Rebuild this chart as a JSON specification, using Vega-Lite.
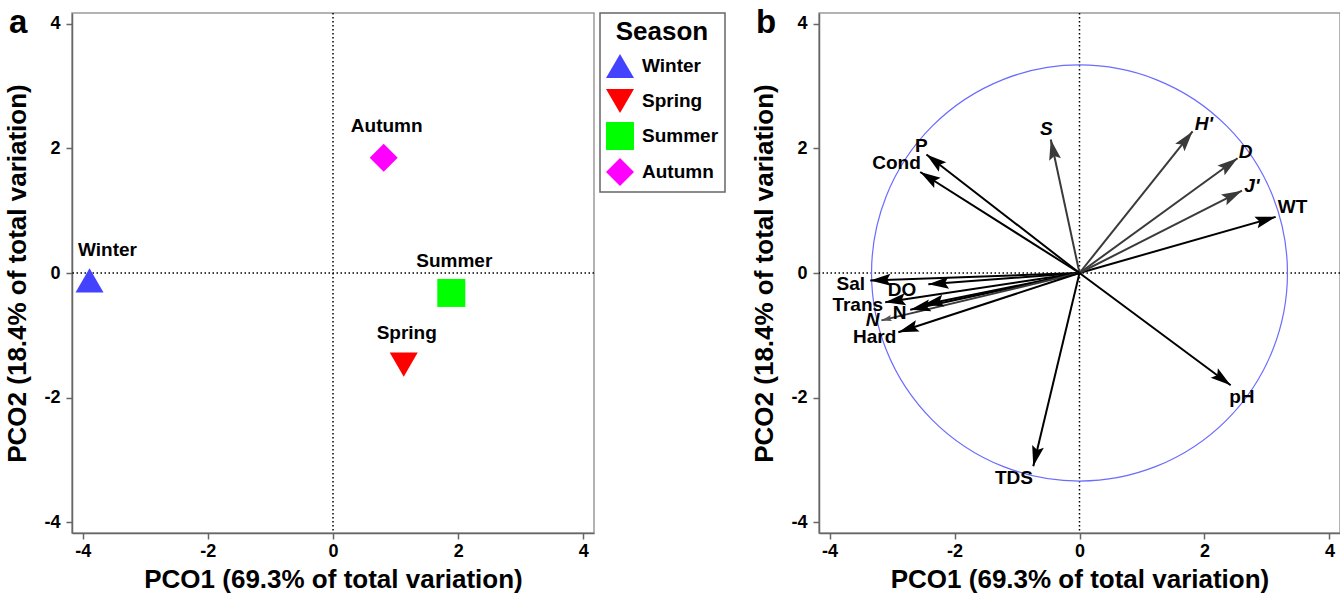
{
  "$schema": "https://vega.github.io/schema/vega-lite/v6.json",
  "background": "white",
  "autosize": {"type": "pad"},
  "padding": {"left": 4, "top": 6, "right": 2, "bottom": 4},
  "spacing": 24,
  "resolve": {
    "scale": {"color": "independent", "shape": "independent", "size": "independent"},
    "legend": {"color": "independent", "shape": "independent", "size": "independent"}
  },
  "config": {
    "font": "Liberation Sans",
    "view": {"stroke": "#9a9a9a", "strokeWidth": 1.5},
    "axis": {
      "labelFont": "Liberation Sans", "labelFontSize": 18, "labelFontWeight": "bold", "labelColor": "#000",
      "titleFont": "Liberation Sans", "titleFontSize": 26, "titleFontWeight": "bold", "titleColor": "#000",
      "domainColor": "#666", "domainWidth": 1.5, "tickColor": "#666", "tickWidth": 1.5, "tickSize": 6,
      "grid": false
    },
    "axisX": {"labelPadding": 3, "titlePadding": 6},
    "axisY": {"labelPadding": 6, "titlePadding": 13},
    "title": {"font": "Liberation Sans", "fontSize": 33, "fontWeight": "bold", "anchor": "start", "frame": "group", "color": "#000", "offset": 0, "dx": -63, "dy": 32},
    "legend": {
      "orient": "right", "offset": 6, "padding": 6, "strokeColor": "#666", "strokeWidth": 1.5, "fillColor": "white",
      "titleFont": "Liberation Sans", "titleFontSize": 26, "titleFontWeight": "bold", "titleColor": "#000", "titleAnchor": "middle", "titlePadding": 7,
      "labelFont": "Liberation Sans", "labelFontSize": 19, "labelFontWeight": "bold", "labelColor": "#000", "labelOffset": 8, "rowPadding": 8,
      "symbolStrokeWidth": 0, "symbolOpacity": 1
    }
  },
  "hconcat": [
    {
      "width": 522,
      "height": 520,
      "title": "a",
      "data": {"values": [
        {"season": "Winter", "pco1": -3.89, "pco2": -0.12},
        {"season": "Spring", "pco1": 1.13, "pco2": -1.47},
        {"season": "Summer", "pco1": 1.89, "pco2": -0.32},
        {"season": "Autumn", "pco1": 0.81, "pco2": 1.85}
      ]},
      "layer": [
        {
          "data": {"values": [{"zero": 0}]},
          "mark": {"type": "rule", "color": "#000", "strokeDash": [1.5, 2.5], "strokeWidth": 1.5},
          "encoding": {"x": {"field": "zero", "type": "quantitative", "scale": {"domain": [-4.17, 4.17], "nice": false, "zero": false}, "axis": {"title": "PCO1 (69.3% of total variation)", "values": [-4, -2, 0, 2, 4], "labelExpr": "'' + datum.value"}}}
        },
        {
          "data": {"values": [{"zero": 0}]},
          "mark": {"type": "rule", "color": "#000", "strokeDash": [1.5, 2.5], "strokeWidth": 1.5},
          "encoding": {"y": {"field": "zero", "type": "quantitative", "scale": {"domain": [-4.17, 4.17], "nice": false, "zero": false}, "axis": {"title": "PCO2 (18.4% of total variation)", "values": [-4, -2, 0, 2, 4], "labelExpr": "'' + datum.value"}}}
        },
        {
          "mark": {"type": "point", "filled": true, "opacity": 1, "strokeWidth": 0},
          "encoding": {
            "x": {"field": "pco1", "type": "quantitative", "scale": {"domain": [-4.17, 4.17], "nice": false, "zero": false}, "axis": {"title": "PCO1 (69.3% of total variation)", "values": [-4, -2, 0, 2, 4], "labelExpr": "'' + datum.value"}},
            "y": {"field": "pco2", "type": "quantitative", "scale": {"domain": [-4.17, 4.17], "nice": false, "zero": false}, "axis": {"title": "PCO2 (18.4% of total variation)", "values": [-4, -2, 0, 2, 4], "labelExpr": "'' + datum.value"}},
            "color": {"field": "season", "type": "nominal", "scale": {"domain": ["Winter", "Spring", "Summer", "Autumn"], "range": ["#4343FF", "#FF0000", "#00FF00", "#FF00FF"]}, "legend": {"title": "Season"}},
            "shape": {"field": "season", "type": "nominal", "scale": {"domain": ["Winter", "Spring", "Summer", "Autumn"], "range": ["triangle-up", "triangle-down", "square", "diamond"]}, "legend": {"title": "Season"}},
            "size": {"field": "season", "type": "nominal", "scale": {"domain": ["Winter", "Spring", "Summer", "Autumn"], "range": [784, 784, 529, 841]}, "legend": {"title": "Season"}}
          }
        },
        {
          "transform": [{"filter": "datum.season !== 'Winter'"}],
          "mark": {"type": "text", "font": "Liberation Sans", "fontSize": 19, "fontWeight": "bold", "color": "#000", "dx": 3, "dy": -32, "baseline": "middle", "align": "center"},
          "encoding": {
            "x": {"field": "pco1", "type": "quantitative", "scale": {"domain": [-4.17, 4.17], "nice": false, "zero": false}, "axis": {"title": "PCO1 (69.3% of total variation)", "values": [-4, -2, 0, 2, 4], "labelExpr": "'' + datum.value"}},
            "y": {"field": "pco2", "type": "quantitative", "scale": {"domain": [-4.17, 4.17], "nice": false, "zero": false}, "axis": {"title": "PCO2 (18.4% of total variation)", "values": [-4, -2, 0, 2, 4], "labelExpr": "'' + datum.value"}},
            "text": {"field": "season"}
          }
        },
        {
          "transform": [{"filter": "datum.season === 'Winter'"}],
          "mark": {"type": "text", "font": "Liberation Sans", "fontSize": 19, "fontWeight": "bold", "color": "#000", "dx": 18, "dy": -30, "baseline": "middle", "align": "center"},
          "encoding": {
            "x": {"field": "pco1", "type": "quantitative", "scale": {"domain": [-4.17, 4.17], "nice": false, "zero": false}, "axis": {"title": "PCO1 (69.3% of total variation)", "values": [-4, -2, 0, 2, 4], "labelExpr": "'' + datum.value"}},
            "y": {"field": "pco2", "type": "quantitative", "scale": {"domain": [-4.17, 4.17], "nice": false, "zero": false}, "axis": {"title": "PCO2 (18.4% of total variation)", "values": [-4, -2, 0, 2, 4], "labelExpr": "'' + datum.value"}},
            "text": {"field": "season"}
          }
        }
      ]
    },
    {
      "width": 521,
      "height": 520,
      "title": "b",
      "data": {"values": [
        {"var": "WT", "kind": "env", "x": 3.14, "y": 0.90, "lx": 3.41, "ly": 1.06},
        {"var": "J'", "kind": "div", "x": 2.60, "y": 1.32, "lx": 2.76, "ly": 1.39},
        {"var": "D", "kind": "div", "x": 2.53, "y": 1.84, "lx": 2.66, "ly": 1.94},
        {"var": "H'", "kind": "div", "x": 1.81, "y": 2.27, "lx": 1.99, "ly": 2.39},
        {"var": "S", "kind": "div", "x": -0.46, "y": 2.14, "lx": -0.53, "ly": 2.31},
        {"var": "P", "kind": "env", "x": -2.45, "y": 1.90, "lx": -2.53, "ly": 2.03},
        {"var": "Cond", "kind": "env", "x": -2.55, "y": 1.62, "lx": -2.93, "ly": 1.76},
        {"var": "Sal", "kind": "env", "x": -3.35, "y": -0.12, "lx": -3.66, "ly": -0.18},
        {"var": "DO", "kind": "env", "x": -2.42, "y": -0.18, "lx": -2.84, "ly": -0.27},
        {"var": "Trans", "kind": "env", "x": -3.11, "y": -0.47, "lx": -3.55, "ly": -0.51},
        {"var": "N", "kind": "env", "x": -2.71, "y": -0.59, "lx": -2.88, "ly": -0.64},
        {"var": "", "kind": "env", "x": -2.50, "y": -0.51, "lx": -2.50, "ly": -0.51},
        {"var": "N", "kind": "div", "x": -3.17, "y": -0.76, "lx": -3.31, "ly": -0.76},
        {"var": "Hard", "kind": "env", "x": -2.90, "y": -0.95, "lx": -3.28, "ly": -1.02},
        {"var": "TDS", "kind": "env", "x": -0.74, "y": -3.10, "lx": -1.05, "ly": -3.28},
        {"var": "pH", "kind": "env", "x": 2.42, "y": -1.80, "lx": 2.60, "ly": -1.99}
      ]},
      "layer": [
        {
          "data": {"values": [{"zero": 0}]},
          "mark": {"type": "rule", "color": "#000", "strokeDash": [1.5, 2.5], "strokeWidth": 1.5},
          "encoding": {"x": {"field": "zero", "type": "quantitative", "scale": {"domain": [-4.17, 4.17], "nice": false, "zero": false}, "axis": {"title": "PCO1 (69.3% of total variation)", "values": [-4, -2, 0, 2, 4], "labelExpr": "'' + datum.value"}}}
        },
        {
          "data": {"values": [{"zero": 0}]},
          "mark": {"type": "rule", "color": "#000", "strokeDash": [1.5, 2.5], "strokeWidth": 1.5},
          "encoding": {"y": {"field": "zero", "type": "quantitative", "scale": {"domain": [-4.17, 4.17], "nice": false, "zero": false}, "axis": {"title": "PCO2 (18.4% of total variation)", "values": [-4, -2, 0, 2, 4], "labelExpr": "'' + datum.value"}}}
        },
        {
          "data": {"values": [{"cx": 0, "cy": 0}]},
          "mark": {"type": "point", "shape": "circle", "filled": false, "size": 173000, "stroke": "#6b6bff", "strokeWidth": 1.2, "opacity": 1},
          "encoding": {
            "x": {"field": "cx", "type": "quantitative", "scale": {"domain": [-4.17, 4.17], "nice": false, "zero": false}, "axis": {"title": "PCO1 (69.3% of total variation)", "values": [-4, -2, 0, 2, 4], "labelExpr": "'' + datum.value"}},
            "y": {"field": "cy", "type": "quantitative", "scale": {"domain": [-4.17, 4.17], "nice": false, "zero": false}, "axis": {"title": "PCO2 (18.4% of total variation)", "values": [-4, -2, 0, 2, 4], "labelExpr": "'' + datum.value"}}
          }
        },
        {
          "mark": {"type": "rule", "strokeWidth": 2},
          "encoding": {
            "x": {"field": "x", "type": "quantitative", "scale": {"domain": [-4.17, 4.17], "nice": false, "zero": false}, "axis": {"title": "PCO1 (69.3% of total variation)", "values": [-4, -2, 0, 2, 4], "labelExpr": "'' + datum.value"}},
            "y": {"field": "y", "type": "quantitative", "scale": {"domain": [-4.17, 4.17], "nice": false, "zero": false}, "axis": {"title": "PCO2 (18.4% of total variation)", "values": [-4, -2, 0, 2, 4], "labelExpr": "'' + datum.value"}},
            "x2": {"datum": 0},
            "y2": {"datum": 0},
            "color": {"condition": {"test": "datum.kind === 'div'", "value": "#3a3a3a"}, "value": "#000000"}
          }
        },
        {
          "transform": [
            {"filter": "!(datum.kind === 'div' && datum.var === 'N')"},
            {"calculate": "atan2(datum.x, datum.y) * 180 / PI", "as": "heading"}
          ],
          "mark": {"type": "point", "shape": "M0,0L-1,3.4L0,2.8L1,3.4Z", "filled": true, "size": 144, "opacity": 1, "strokeWidth": 0},
          "encoding": {
            "x": {"field": "x", "type": "quantitative", "scale": {"domain": [-4.17, 4.17], "nice": false, "zero": false}, "axis": {"title": "PCO1 (69.3% of total variation)", "values": [-4, -2, 0, 2, 4], "labelExpr": "'' + datum.value"}},
            "y": {"field": "y", "type": "quantitative", "scale": {"domain": [-4.17, 4.17], "nice": false, "zero": false}, "axis": {"title": "PCO2 (18.4% of total variation)", "values": [-4, -2, 0, 2, 4], "labelExpr": "'' + datum.value"}},
            "angle": {"field": "heading", "type": "quantitative", "scale": null},
            "color": {"condition": {"test": "datum.kind === 'div'", "value": "#3a3a3a"}, "value": "#000000"}
          }
        },
        {
          "transform": [
            {"filter": "datum.kind === 'div' && datum.var === 'N'"},
            {"calculate": "atan2(datum.x, datum.y) * 180 / PI", "as": "heading"}
          ],
          "mark": {"type": "point", "shape": "M0,0L-1,3.4L0,2.8L1,3.4Z", "filled": true, "size": 36, "opacity": 1, "strokeWidth": 0, "color": "#555"},
          "encoding": {
            "x": {"field": "x", "type": "quantitative", "scale": {"domain": [-4.17, 4.17], "nice": false, "zero": false}, "axis": {"title": "PCO1 (69.3% of total variation)", "values": [-4, -2, 0, 2, 4], "labelExpr": "'' + datum.value"}},
            "y": {"field": "y", "type": "quantitative", "scale": {"domain": [-4.17, 4.17], "nice": false, "zero": false}, "axis": {"title": "PCO2 (18.4% of total variation)", "values": [-4, -2, 0, 2, 4], "labelExpr": "'' + datum.value"}},
            "angle": {"field": "heading", "type": "quantitative", "scale": null}
          }
        },
        {
          "transform": [{"filter": "datum.kind === 'env'"}],
          "mark": {"type": "text", "font": "Liberation Sans", "fontSize": 19, "fontWeight": "bold", "color": "#000", "baseline": "middle", "align": "center"},
          "encoding": {
            "x": {"field": "lx", "type": "quantitative", "scale": {"domain": [-4.17, 4.17], "nice": false, "zero": false}, "axis": {"title": "PCO1 (69.3% of total variation)", "values": [-4, -2, 0, 2, 4], "labelExpr": "'' + datum.value"}},
            "y": {"field": "ly", "type": "quantitative", "scale": {"domain": [-4.17, 4.17], "nice": false, "zero": false}, "axis": {"title": "PCO2 (18.4% of total variation)", "values": [-4, -2, 0, 2, 4], "labelExpr": "'' + datum.value"}},
            "text": {"field": "var"}
          }
        },
        {
          "transform": [{"filter": "datum.kind === 'div'"}],
          "mark": {"type": "text", "font": "Liberation Sans", "fontSize": 19, "fontWeight": "bold", "fontStyle": "italic", "color": "#000", "baseline": "middle", "align": "center"},
          "encoding": {
            "x": {"field": "lx", "type": "quantitative", "scale": {"domain": [-4.17, 4.17], "nice": false, "zero": false}, "axis": {"title": "PCO1 (69.3% of total variation)", "values": [-4, -2, 0, 2, 4], "labelExpr": "'' + datum.value"}},
            "y": {"field": "ly", "type": "quantitative", "scale": {"domain": [-4.17, 4.17], "nice": false, "zero": false}, "axis": {"title": "PCO2 (18.4% of total variation)", "values": [-4, -2, 0, 2, 4], "labelExpr": "'' + datum.value"}},
            "text": {"field": "var"}
          }
        }
      ]
    }
  ]
}
